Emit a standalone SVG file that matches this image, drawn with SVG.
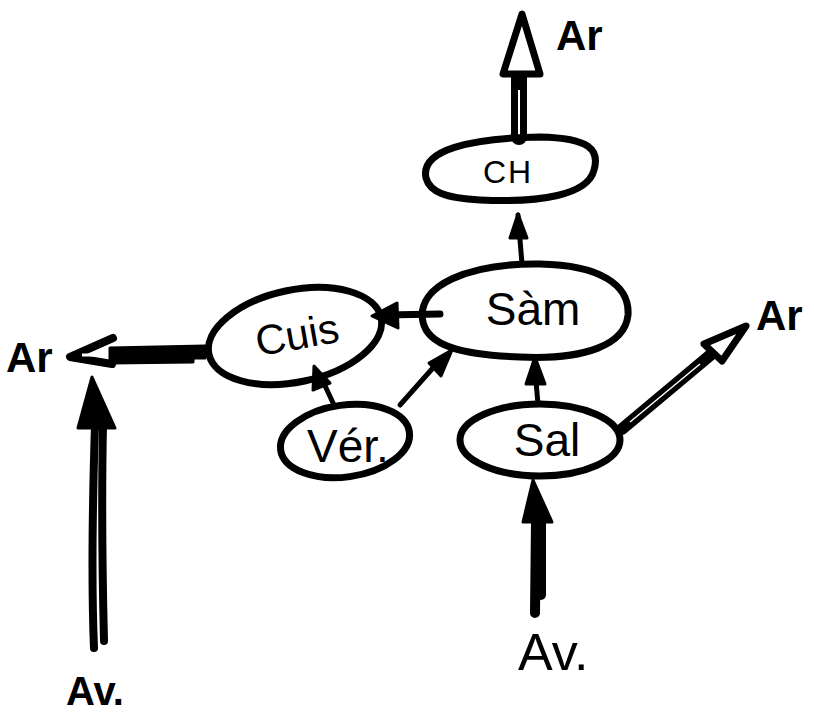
<svg xmlns="http://www.w3.org/2000/svg" width="814" height="713" viewBox="0 0 814 713">
<style>
.node{fill:none;stroke:#000;stroke-width:7}
.lbl{font-family:"Liberation Sans",Arial,sans-serif;fill:#000}
.ln{stroke:#000;fill:none;stroke-linecap:round}
.open{fill:#fff;stroke:#000;stroke-width:7;stroke-linejoin:round}
.solid{fill:#000;stroke:#000;stroke-width:3;stroke-linejoin:round}
</style>
<rect width="814" height="713" fill="#fff"/>
<g id="connectors">
  <!-- CH -> Ar (top) -->
  <line class="ln" x1="519" y1="72" x2="519" y2="137" stroke-width="16"/>
  <line x1="519" y1="90" x2="519" y2="135" stroke="#fff" stroke-width="2"/>
  <polygon class="open" points="522,14 503,74 540,74"/>
  <!-- Sam -> CH -->
  <line class="ln" x1="522" y1="264" x2="518" y2="215" stroke-width="5"/>
  <polygon class="solid" points="518,214 510,238 527,238"/>
  <!-- Sam -> Cuis -->
  <line class="ln" x1="440" y1="314" x2="385" y2="315" stroke-width="7"/>
  <polygon class="solid" points="372,316 397,303 398,328"/>
  <!-- Cuis -> Ar (left) -->
  <polygon class="solid" points="110,348 205,346 205,358 193,358 193,362 110,363"/>
  <polyline class="ln" points="113,338 70,357 112,364" stroke-width="8" stroke-linejoin="round"/>
  <line x1="82" y1="355" x2="100" y2="355" stroke="#fff" stroke-width="3"/>
  <!-- Av (left) -> up -->
  <path class="ln" d="M94,648 C92,600 92,520 95,425" stroke-width="8"/>
  <path class="ln" d="M104,641 C103,600 101,520 103,425" stroke-width="8"/>
  <polygon class="solid" points="92,377 78,428 115,428"/>
  <!-- Ver -> Cuis -->
  <line class="ln" x1="334" y1="405" x2="320" y2="375" stroke-width="5"/>
  <polygon class="solid" points="314,366 313,390 330,383"/>
  <!-- Ver -> Sam -->
  <line class="ln" x1="400" y1="405" x2="440" y2="360" stroke-width="5"/>
  <polygon class="solid" points="452,350 429,363 441,376"/>
  <!-- Sal -> Sam -->
  <line class="ln" x1="538" y1="404" x2="535" y2="370" stroke-width="5"/>
  <polygon class="solid" points="535,357 526,384 545,384"/>
  <!-- Sal -> Ar (right) -->
  <line class="ln" x1="622" y1="429" x2="714" y2="352" stroke-width="12"/>
  <line x1="630" y1="422" x2="700" y2="364" stroke="#fff" stroke-width="1.5"/>
  <polygon class="open" points="746,326 704,344 722,361"/>
  <!-- Av (right) -> Sal -->
  <path class="ln" d="M535,613 L536,520" stroke-width="10"/>
  <path class="ln" d="M541,595 L541,520" stroke-width="10"/>
  <polygon class="solid" points="533,480 523,522 552,522"/>
</g>
<g id="node-ch">
  <path class="node" d="M426,178 C420,150 470,138 540,137 C590,138 600,150 594,170 C588,195 540,203 480,200 C445,198 430,192 426,178 Z"/>
  <text class="lbl" x="508" y="183" font-size="32" text-anchor="middle" letter-spacing="2">CH</text>
</g>
<g id="node-sam">
  <path class="node" d="M423,322 C415,285 470,263 540,264 C600,265 630,285 628,315 C625,345 585,360 520,357 C460,355 428,345 423,322 Z"/>
  <text class="lbl" x="533" y="325" font-size="46" text-anchor="middle">Sàm</text>
</g>
<g id="node-cuis">
  <ellipse class="node" cx="295" cy="336" rx="88" ry="46" transform="rotate(-12 295 336)"/>
  <text class="lbl" x="298" y="349" font-size="42" text-anchor="middle" transform="rotate(-10 298 340)">Cuis</text>
</g>
<g id="node-ver">
  <ellipse class="node" cx="345" cy="441" rx="65" ry="36" transform="rotate(-8 345 441)"/>
  <text class="lbl" x="348" y="462" font-size="46" text-anchor="middle">Vér.</text>
</g>
<g id="node-sal">
  <ellipse class="node" cx="540" cy="440" rx="80" ry="36"/>
  <text class="lbl" x="547" y="456" font-size="46" text-anchor="middle">Sal</text>
</g>
<g id="labels">
  <text class="lbl" x="556" y="50" font-size="42" font-weight="bold">Ar</text>
  <text class="lbl" x="6" y="372" font-size="42" font-weight="bold">Ar</text>
  <text class="lbl" x="756" y="330" font-size="42" font-weight="bold">Ar</text>
  <text class="lbl" x="518" y="670" font-size="52">Av.</text>
  <text class="lbl" x="66" y="705" font-size="40" font-weight="bold">Av.</text>
</g>
</svg>
